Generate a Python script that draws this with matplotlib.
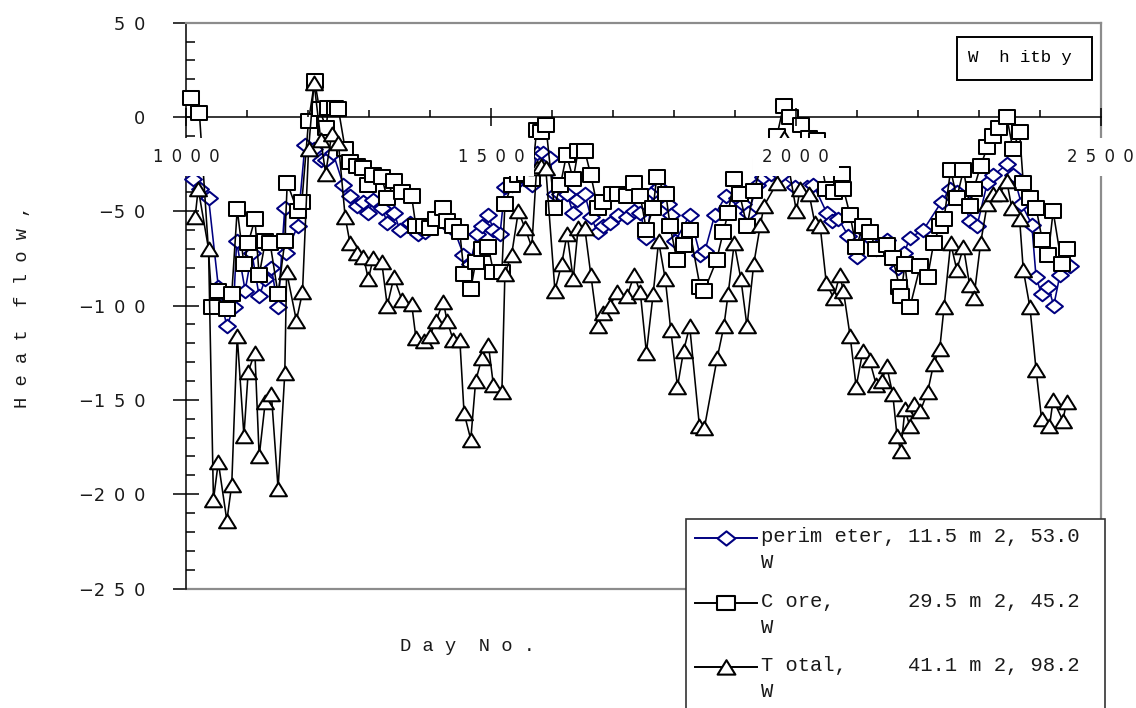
import matplotlib
matplotlib.use("Agg")
import matplotlib.pyplot as plt
from matplotlib.path import Path
from matplotlib.patches import Rectangle
from matplotlib.lines import Line2D

# ---------------- data ----------------
day_perim = [1012, 1023, 1037, 1053, 1067, 1078, 1083, 1097, 1108, 1120, 1130, 1140,
             1151, 1162, 1164, 1183, 1195, 1210, 1221, 1229, 1241, 1258, 1269, 1280,
             1291, 1299, 1307, 1321, 1330, 1341, 1351, 1367, 1381, 1392, 1403, 1425,
             1440, 1455, 1466, 1477, 1485, 1496, 1504, 1515, 1523, 1534, 1545, 1556,
             1567, 1575, 1586, 1597, 1605, 1614, 1625, 1635, 1642, 1654, 1664, 1675,
             1684, 1695, 1709, 1723, 1735, 1745, 1755, 1766, 1775, 1791, 1795, 1802,
             1826, 1843, 1851, 1867, 1885, 1903, 1913, 1922, 1937, 1947, 1960, 1975,
             1999, 2018, 2029, 2051, 2059, 2070, 2086, 2100, 2110, 2121, 2132, 2140,
             2149, 2168, 2178, 2187, 2209, 2239, 2253, 2264, 2275, 2285, 2297, 2314,
             2324, 2346, 2357, 2370, 2387, 2394, 2403, 2414, 2423, 2433, 2450]
heat_perim = [-33, -38, -43, -90, -111, -101, -66, -92, -72, -95, -86, -80,
              -101, -48, -72, -58, -15, -17, -23, -23, -19, -36, -42, -47,
              -45, -51, -44, -48, -56, -51, -60, -56, -62, -61, -57, -56,
              -60, -73, -78, -62, -58, -52, -60, -62, -37, -36, -34, -33,
              -36, -19, -19, -22, -41, -41, -41, -51, -44, -41, -53, -61,
              -58, -56, -52, -53, -50, -51, -64, -40, -37, -46, -52, -66,
              -52, -73, -71, -52, -42, -43, -46, -51, -36, -32, -30, -31,
              -37, -37, -36, -51, -55, -54, -63, -74, -60, -64, -70, -68,
              -65, -80, -72, -64, -60, -45, -38, -40, -43, -55, -58, -35,
              -31, -25, -31, -46, -57, -85, -94, -90, -100, -84, -79]

day_core = [1008, 1022, 1043, 1053, 1067, 1075, 1084, 1095, 1102, 1113, 1120, 1130,
            1138, 1151, 1162, 1166, 1183, 1190, 1201, 1211, 1219, 1230, 1233, 1244,
            1250, 1261, 1269, 1280, 1291, 1299, 1307, 1321, 1330, 1341, 1354, 1370,
            1377, 1390, 1400, 1410, 1422, 1428, 1438, 1449, 1456, 1467, 1475, 1485,
            1496, 1504, 1518, 1523, 1534, 1545, 1556, 1567, 1575, 1582, 1590, 1604,
            1614, 1624, 1635, 1643, 1654, 1664, 1675, 1684, 1698, 1709, 1723, 1735,
            1745, 1755, 1766, 1772, 1787, 1794, 1805, 1816, 1826, 1843, 1850, 1870,
            1881, 1889, 1899, 1908, 1920, 1931, 1944, 1950, 1969, 1980, 1990, 2008,
            2022, 2034, 2050, 2062, 2075, 2078, 2089, 2099, 2110, 2121, 2132, 2149,
            2159, 2170, 2172, 2179, 2187, 2204, 2216, 2226, 2236, 2243, 2254, 2264,
            2275, 2285, 2292, 2303, 2314, 2324, 2334, 2346, 2356, 2367, 2373, 2384,
            2394, 2404, 2414, 2422, 2436, 2444]
heat_core = [10, 2, -101, -92, -102, -94, -49, -78, -67, -54, -84, -66,
             -67, -94, -66, -35, -50, -45, -2, 19, 4, -6, 5, 5,
             4, -17, -24, -26, -27, -36, -31, -32, -43, -34, -40, -42,
             -58, -58, -59, -54, -48, -55, -58, -61, -83, -91, -77, -70,
             -69, -82, -82, -46, -36, -31, -30, -33, -7, -8, -4, -48,
             -36, -20, -33, -18, -18, -31, -48, -45, -41, -41, -42, -35,
             -42, -60, -48, -32, -41, -58, -76, -68, -60, -90, -92, -76,
             -61, -51, -33, -41, -58, -39, -26, -17, -10, 6, 0, -4,
             -11, -12, -38, -40, -30, -38, -52, -69, -58, -61, -70, -68,
             -75, -90, -95, -78, -101, -79, -85, -67, -58, -54, -28, -43,
             -28, -47, -38, -26, -16, -10, -6, 0, -17, -8, -35, -43,
             -48, -65, -73, -50, -78, -70]

day_total = [1015, 1020, 1037, 1045, 1053, 1067, 1075, 1084, 1095, 1102, 1113, 1120,
             1130, 1140, 1151, 1162, 1165, 1181, 1191, 1201, 1210, 1221, 1229, 1239,
             1250, 1261, 1269, 1280, 1291, 1299, 1307, 1321, 1330, 1341, 1354, 1370,
             1377, 1390, 1400, 1410, 1422, 1428, 1438, 1449, 1456, 1467, 1475, 1485,
             1496, 1504, 1518, 1523, 1534, 1545, 1556, 1567, 1575, 1582, 1590, 1605,
             1616, 1625, 1635, 1643, 1654, 1664, 1675, 1684, 1696, 1706, 1723, 1735,
             1745, 1755, 1766, 1775, 1786, 1795, 1806, 1816, 1826, 1842, 1850, 1871,
             1882, 1889, 1899, 1910, 1920, 1931, 1942, 1948, 1969, 1980, 2001, 2007,
             2022, 2031, 2040, 2050, 2062, 2072, 2078, 2089, 2099, 2110, 2121, 2132,
             2141, 2149, 2159, 2166, 2172, 2179, 2187, 2194, 2204, 2216, 2226, 2236,
             2243, 2254, 2264, 2275, 2285, 2292, 2303, 2314, 2324, 2334, 2346, 2354,
             2367, 2373, 2384, 2394, 2403, 2416, 2422, 2438, 2444]
heat_total = [-53, -38, -70, -203, -183, -214, -195, -116, -169, -135, -125, -180,
              -151, -147, -197, -136, -82, -108, -93, -17, 18, -12, -30, -9,
              -14, -53, -67, -72, -74, -86, -75, -77, -100, -85, -97, -99,
              -117, -119, -116, -108, -98, -108, -118, -118, -157, -171, -140, -128,
              -121, -142, -146, -83, -73, -50, -59, -69, -27, -26, -27, -92,
              -78, -62, -86, -59, -59, -84, -111, -104, -100, -93, -95, -84,
              -93, -125, -94, -66, -86, -113, -143, -124, -111, -164, -165, -128,
              -111, -94, -67, -86, -111, -78, -57, -47, -35, -11, -50, -38,
              -41, -56, -58, -88, -96, -84, -92, -116, -143, -124, -129, -142,
              -140, -132, -147, -169, -177, -155, -164, -152, -156, -146, -131, -123,
              -101, -67, -81, -69, -89, -96, -67, -46, -41, -41, -34, -48,
              -54, -81, -101, -134, -160, -164, -150, -161, -151]

series_labels = [("perim eter, 11.5 m 2, 53.0", "W"),
                 ("C ore,      29.5 m 2, 45.2", "W"),
                 ("T otal,     41.1 m 2, 98.2", "W")]
x_ticks = [1000, 1500, 2000, 2500]
y_ticks = [-250, -200, -150, -100, -50, 0, 50]
x_title = "D a y  N o ."
y_title = "H e a t  f l o w ,"
site = "W  h itb y"

# ---------------- figure ----------------
W, H = 1136, 708
fig = plt.figure(figsize=(W / 100, H / 100), dpi=100)
fig.patch.set_facecolor("white")


def fx(px):
    return px / W


def fy(py):
    return 1 - py / H


ax = fig.add_axes([fx(186), fy(588.5), (1100.7 - 186) / W, (588.5 - 22.7) / H])
ax.set_xlim(1000, 2500)
ax.set_ylim(-250, 50)


def closed(verts):
    return Path(verts + [verts[0]], closed=True)


diamond = closed([(-1, 0), (0, 0.8), (1, 0), (0, -0.8)])
square = closed([(-1, -0.78), (1, -0.78), (1, 0.78), (-1, 0.78)])
triangle = closed([(-1, -0.8), (1, -0.8), (0, 0.82)])

NAVY = "#000080"
styles = [
    dict(color=NAVY, marker=diamond, mec=NAVY),
    dict(color="black", marker=square, mec="black"),
    dict(color="black", marker=triangle, mec="black"),
]
common = dict(lw=1.15, ms=12.2, mfc="white", mew=1.45)

for (d, v), st in zip([(day_perim, heat_perim), (day_core, heat_core),
                        (day_total, heat_total)], styles):
    ax.plot(d, v, zorder=3, clip_on=False, **st, **common)

# axes frame: black left axis, x axis through zero, grey box around the plot
ax.spines["bottom"].set_position(("data", 0))
ax.spines["bottom"].set_linewidth(1.1)
ax.spines["left"].set_linewidth(1.1)
for s in ("top", "right"):
    ax.spines[s].set_color("#8c8c8c")
    ax.spines[s].set_linewidth(1.6)
ax.axhline(ax.get_ylim()[0], color="#8c8c8c", lw=1.6, clip_on=False, zorder=2.4)

SP = "\u2002"


def spaced(v):
    s = str(abs(v))
    out = SP.join(s)
    return ("\u2212" + out) if v < 0 else out


ax.set_xticks(x_ticks)
ax.set_xticks(range(1000, 2501, 100), minor=True)
ax.set_xticklabels([spaced(t) for t in x_ticks], fontsize=11.9, color="#1a1a1a",
                   family="DejaVu Sans",
                   bbox=dict(facecolor="white", edgecolor="none", pad=7))
ax.set_yticks(y_ticks)
ax.set_yticks(range(-250, 51, 10), minor=True)
ax.set_yticklabels([spaced(t) for t in y_ticks], fontsize=12.8, color="#1a1a1a",
                   family="DejaVu Sans")
ax.tick_params(axis="x", which="major", direction="inout", length=13, width=1.1, pad=16)
ax.tick_params(axis="x", which="minor", direction="in", length=5, width=1.1)
ax.tick_params(axis="y", which="major", direction="inout", length=18.7, width=1.1, pad=20)
ax.tick_params(axis="y", which="minor", direction="in", length=6.5, width=1.1)
ax.xaxis.set_zorder(5)

MONO = "Liberation Mono"
fig.text(fx(400), fy(651), x_title, family=MONO, fontsize=13.5, ha="left",
         va="baseline", color="#1a1a1a")
fig.text(fx(23), fy(408), y_title, family=MONO, fontsize=13.5, rotation=90,
         ha="center", va="bottom", color="#1a1a1a")

# site name box
fig.add_artist(Rectangle((fx(957), fy(80)), (1092 - 957) / W, (80 - 37) / H,
                         transform=fig.transFigure, facecolor="white",
                         edgecolor="black", lw=1.4, zorder=6))
fig.text(fx(1020), fy(62), site, family=MONO, fontsize=12.5, ha="center",
         va="baseline", color="black", zorder=7)

# legend panel
fig.add_artist(Rectangle((fx(686), fy(715)), (1105 - 686) / W, (715 - 519) / H,
                         transform=fig.transFigure, facecolor="white",
                         edgecolor="#333333", lw=1.2, zorder=6))
row_y = [538, 603, 667]
for (line1, line2), st, yy in zip(series_labels, styles, row_y):
    fig.add_artist(Line2D([fx(695), fx(757)], [fy(yy), fy(yy)], color=st["color"],
                          lw=1.4, transform=fig.transFigure, zorder=7))
    fig.add_artist(Line2D([fx(726)], [fy(yy)], linestyle="none", marker=st["marker"],
                          mec=st["mec"], mfc="white", ms=12.8, mew=1.5,
                          transform=fig.transFigure, zorder=8))
    fig.text(fx(761), fy(yy + 4), line1, family=MONO, fontsize=14.8, ha="left",
             va="baseline", color="#1a1a1a", zorder=8)
    fig.text(fx(761), fy(yy + 30), line2, family=MONO, fontsize=14.8, ha="left",
             va="baseline", color="#1a1a1a", zorder=8)

fig.savefig("out.png", dpi=100)
